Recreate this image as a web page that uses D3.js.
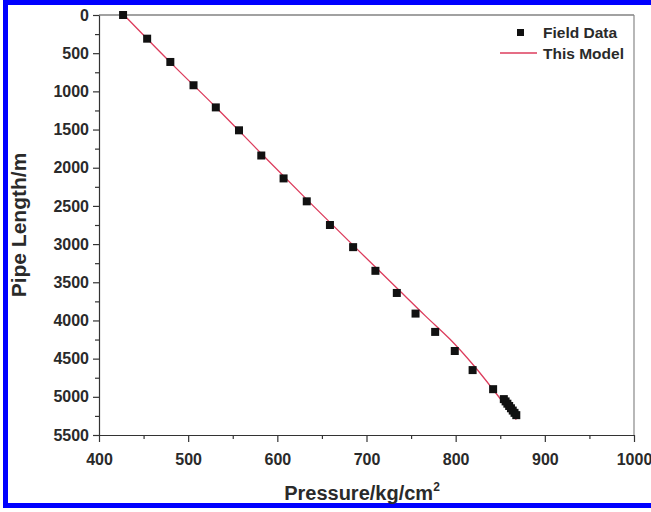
<!DOCTYPE html>
<html>
<head>
<meta charset="utf-8">
<script src="https://cdn.jsdelivr.net/npm/d3@7"></script>
<style>
  body { margin: 0; background: #fff; }
  svg text { font-family: "Liberation Sans", Arial, sans-serif; font-weight: bold; fill: #2a2a2a; }
</style>
</head>
<body>
<div id="container"></div>
<script>
// field measurements
const fieldPressure = [427, 454, 480, 506, 531, 557, 582, 607, 633, 659, 685, 710, 734, 755, 777, 799, 819, 842,
    854, 856, 858, 860, 862, 864, 866, 868]
const fieldLength = [0, 310, 615, 920, 1210, 1510, 1840, 2140, 2440, 2750, 3040, 3350, 3640, 3910, 4150, 4400, 4650, 4900,
    5030, 5060, 5090, 5120, 5150, 5180, 5210, 5240]

// model curve
const modelPressure = [428, 480, 533, 585, 636, 688, 738, 766, 794, 821, 845, 868]
const modelLength = [0, 620, 1230, 1850, 2450, 3050, 3620, 3940, 4250, 4600, 4950, 5300]

const xTicks = [400, 500, 600, 700, 800, 900, 1000]
const yTicks = [0, 500, 1000, 1500, 2000, 2500, 3000, 3500, 4000, 4500, 5000, 5500]

const W = 651, H = 512
const margin = { top: 15, right: 17, bottom: 77, left: 99 }
const width = W - margin.left - margin.right
const height = H - margin.top - margin.bottom

const root = d3.select("div#container").append("svg")
    .attr("width", W)
    .attr("height", H)

// blue frame round the figure
root.append("rect")
    .attr("x", 5.5).attr("y", 2.5)
    .attr("width", 660).attr("height", 503)
    .attr("fill", "none")
    .attr("stroke", "#0000ff")
    .attr("stroke-width", 5)

const svg = root.append("g")
    .attr("transform", "translate(" + margin.left + "," + margin.top + ")")

const xScale = d3.scaleLinear().domain([400, 1000]).range([0, width])
const yScale = d3.scaleLinear().domain([0, 5500]).range([0, height])

// frame
svg.append("line").attr("x1", 0).attr("x2", width).attr("y1", 0).attr("y2", 0)
    .attr("stroke", "#444").attr("stroke-width", 1.2)
svg.append("line").attr("x1", width).attr("x2", width).attr("y1", 0).attr("y2", height)
    .attr("stroke", "#888").attr("stroke-width", 1.2)

// minor ticks
svg.append("g")
    .attr("transform", "translate(0," + height + ")")
    .call(d3.axisBottom(xScale).tickValues(d3.range(450, 1000, 100)).tickSize(4).tickFormat(""))
    .call(g => g.select(".domain").remove())
svg.append("g")
    .call(d3.axisLeft(yScale).tickValues(d3.range(250, 5500, 500)).tickSize(4).tickFormat(""))
    .call(g => g.select(".domain").remove())

svg.append("g")
    .attr("transform", "translate(0," + height + ")")
    .call(d3.axisBottom(xScale).tickValues(xTicks).tickSize(7).tickSizeOuter(0).tickPadding(12).tickFormat(d3.format("d")))

svg.append("g")
    .call(d3.axisLeft(yScale).tickValues(yTicks).tickSize(6).tickSizeOuter(0).tickPadding(4).tickFormat(d3.format("d")))

root.selectAll(".tick line").attr("stroke", "#333").attr("stroke-width", 1.2)
root.selectAll(".domain").attr("stroke", "#333").attr("stroke-width", 1.2)
root.selectAll(".tick text").style("font-size", "16px").style("font-family", "Liberation Sans, Arial, sans-serif")
    .style("font-weight", "bold").attr("fill", "#2a2a2a")

// model line
const model = modelPressure.map((p, i) => [p, modelLength[i]])
svg.append("path")
    .datum(model)
    .attr("fill", "none")
    .attr("stroke", "#dc3c5c")
    .attr("stroke-width", 1.3)
    .attr("d", d3.line()
        .x(d => xScale(d[0]))
        .y(d => yScale(d[1]))
        .curve(d3.curveMonotoneY))

// field data squares
const field = fieldPressure.map((p, i) => [p, fieldLength[i]])
svg.selectAll("rect.pt")
    .data(field)
    .enter().append("rect")
    .attr("class", "pt")
    .attr("x", d => xScale(d[0]) - 4)
    .attr("y", d => yScale(d[1]) - 4)
    .attr("width", 8)
    .attr("height", 8)
    .attr("fill", "#111")

// legend
root.append("rect").attr("x", 517).attr("y", 29).attr("width", 7).attr("height", 7).attr("fill", "#111")
root.append("text").attr("x", 543).attr("y", 38).text("Field Data").style("font-size", "15.5px")
root.append("line").attr("x1", 500).attr("x2", 537).attr("y1", 53).attr("y2", 53)
    .attr("stroke", "#dc3c5c").attr("stroke-width", 1.3)
root.append("text").attr("x", 543).attr("y", 59).text("This Model").style("font-size", "15.5px")

// axis titles
const xt = root.append("text")
    .attr("text-anchor", "middle")
    .attr("x", 362).attr("y", 500)
    .style("font-size", "20px")
xt.append("tspan").text("Pressure/kg/cm")
xt.append("tspan").text("2").attr("dy", -9).style("font-size", "12px")

root.append("text")
    .attr("text-anchor", "middle")
    .attr("transform", "translate(26,225)rotate(-90)")
    .style("font-size", "21px")
    .text("Pipe Length/m")
</script>
</body>
</html>
